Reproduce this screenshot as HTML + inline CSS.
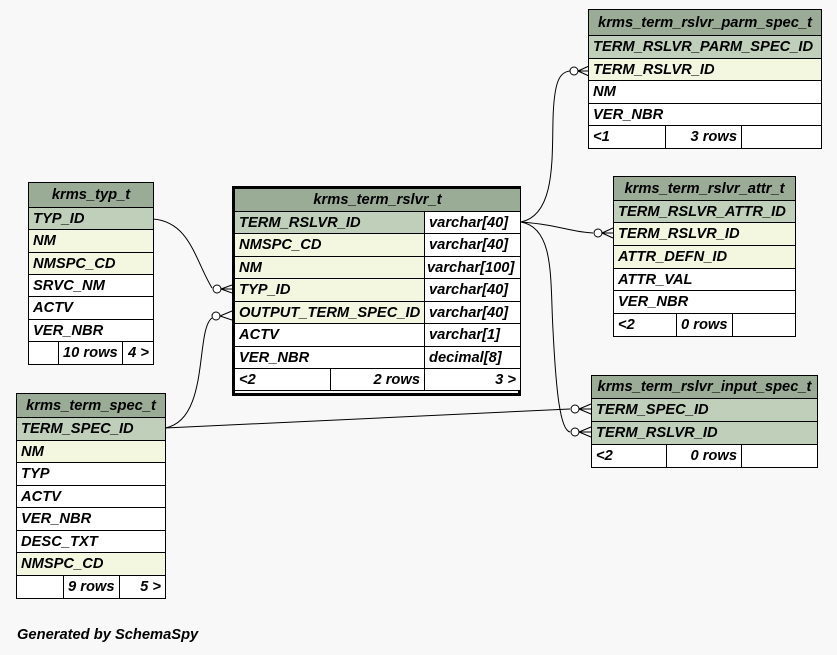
<!DOCTYPE html>
<html><head><style>
body{margin:0;width:837px;height:655px;background:#f8f8f8;position:relative;overflow:hidden;font-family:"Liberation Sans",sans-serif;font-weight:bold;font-style:italic;font-size:14.7px;color:#000}
table{position:absolute;border-collapse:collapse;background:#fff}
td{border:1px solid #000;padding:0 4px;white-space:nowrap;overflow:hidden;line-height:16px}
.h{background:#9aab96;text-align:center}
.pk{background:#bfcfba}
.fk{background:#f4f7df}
.r{text-align:right}
</style></head><body>
<svg width="837" height="655" style="position:absolute;left:0;top:0" fill="none" stroke="#000" stroke-width="1">
<path d="M153,219 C190,222 195,260 212,288"/><circle cx="217" cy="289" r="4" fill="#fff"/><path d="M221,289 L232,285 M221,289 L232,293 M221,289 L232,289"/>
<path d="M165,428 C210,420 195,330 212,318"/><circle cx="216" cy="316" r="4" fill="#fff"/><path d="M220,316 L232,311 M220,316 L232,320"/>
<path d="M521,222 C555,215 552,160 553,120 C554,80 560,72 570,71"/><circle cx="574" cy="71" r="4" fill="#fff"/><path d="M578,71 L589,66 M578,71 L589,76 M578,71 L589,71"/>
<path d="M521,222 C560,225 570,232 593,233"/><circle cx="598" cy="233" r="4" fill="#fff"/><path d="M602,233 L613,228 M602,233 L613,238 M602,233 L613,233"/>
<path d="M521,222 C555,228 550,280 553,330 C556,390 560,430 570,432"/><circle cx="575" cy="432" r="4" fill="#fff"/><path d="M579,432 L591,427 M579,432 L591,437 M579,432 L591,432"/>
<path d="M165,428 L570,409"/><circle cx="575" cy="409" r="4" fill="#fff"/><path d="M579,409 L591,404 M579,409 L591,414 M579,409 L591,409"/>
</svg>

<div style="position:absolute;left:232px;top:186px;width:289px;height:210px;border:3px solid #000;box-sizing:border-box"></div>
<table style="left:234px;top:188px;width:286px;table-layout:fixed">
<colgroup><col style="width:96px"><col style="width:94px"><col style="width:96px"></colgroup>
<tr style="height:23px"><td class="h" colspan="3">krms_term_rslvr_t</td></tr>
<tr style="height:22px"><td class="pk" colspan="2">TERM_RSLVR_ID</td><td>varchar[40]</td></tr>
<tr style="height:23px"><td class="fk" colspan="2">NMSPC_CD</td><td>varchar[40]</td></tr>
<tr style="height:22px"><td class="fk" colspan="2">NM</td><td style="padding:0 2px">varchar[100]</td></tr>
<tr style="height:23px"><td class="fk" colspan="2">TYP_ID</td><td>varchar[40]</td></tr>
<tr style="height:22px"><td class="fk" colspan="2" style="padding:0 2px 0 4px">OUTPUT_TERM_SPEC_ID</td><td>varchar[40]</td></tr>
<tr style="height:23px"><td colspan="2">ACTV</td><td>varchar[1]</td></tr>
<tr style="height:22px"><td colspan="2">VER_NBR</td><td>decimal[8]</td></tr>
<tr style="height:22px"><td>&lt;2</td><td class="r">2 rows</td><td class="r">3 &gt;</td></tr>
</table>

<table style="left:28px;top:182px;width:126px">
<tr style="height:25px"><td class="h" colspan="3">krms_typ_t</td></tr>
<tr style="height:22px"><td class="pk" colspan="3">TYP_ID</td></tr>
<tr style="height:23px"><td class="fk" colspan="3">NM</td></tr>
<tr style="height:22px"><td class="fk" colspan="3">NMSPC_CD</td></tr>
<tr style="height:22px"><td colspan="3">SRVC_NM</td></tr>
<tr style="height:23px"><td colspan="3">ACTV</td></tr>
<tr style="height:22px"><td colspan="3">VER_NBR</td></tr>
<tr style="height:23px"><td style="width:21px"></td><td class="r" style="width:51px">10 rows</td><td class="r">4 &gt;</td></tr>
</table>

<table style="left:16px;top:393px;width:150px">
<tr style="height:24px"><td class="h" colspan="3">krms_term_spec_t</td></tr>
<tr style="height:23px"><td class="pk" colspan="3">TERM_SPEC_ID</td></tr>
<tr style="height:22px"><td class="fk" colspan="3">NM</td></tr>
<tr style="height:23px"><td colspan="3">TYP</td></tr>
<tr style="height:22px"><td colspan="3">ACTV</td></tr>
<tr style="height:23px"><td colspan="3">VER_NBR</td></tr>
<tr style="height:22px"><td colspan="3">DESC_TXT</td></tr>
<tr style="height:23px"><td class="fk" colspan="3">NMSPC_CD</td></tr>
<tr style="height:23px"><td style="width:38px"></td><td class="r" style="width:43px">9 rows</td><td class="r">5 &gt;</td></tr>
</table>

<table style="left:588px;top:9px;width:234px">
<tr style="height:26px"><td class="h" colspan="3">krms_term_rslvr_parm_spec_t</td></tr>
<tr style="height:23px"><td class="pk" colspan="3">TERM_RSLVR_PARM_SPEC_ID</td></tr>
<tr style="height:22px"><td class="fk" colspan="3">TERM_RSLVR_ID</td></tr>
<tr style="height:23px"><td colspan="3">NM</td></tr>
<tr style="height:22px"><td colspan="3">VER_NBR</td></tr>
<tr style="height:23px"><td style="width:68px">&lt;1</td><td class="r" style="width:67px">3 rows</td><td></td></tr>
</table>

<table style="left:613px;top:176px;width:183px">
<tr style="height:24px"><td class="h" colspan="3">krms_term_rslvr_attr_t</td></tr>
<tr style="height:22px"><td class="pk" colspan="3">TERM_RSLVR_ATTR_ID</td></tr>
<tr style="height:23px"><td class="fk" colspan="3">TERM_RSLVR_ID</td></tr>
<tr style="height:23px"><td class="fk" colspan="3">ATTR_DEFN_ID</td></tr>
<tr style="height:22px"><td colspan="3">ATTR_VAL</td></tr>
<tr style="height:23px"><td colspan="3">VER_NBR</td></tr>
<tr style="height:23px"><td style="width:54px">&lt;2</td><td class="r" style="width:46px">0 rows</td><td></td></tr>
</table>

<table style="left:591px;top:375px;width:227px">
<tr style="height:23px"><td class="h" colspan="3">krms_term_rslvr_input_spec_t</td></tr>
<tr style="height:23px"><td class="pk" colspan="3">TERM_SPEC_ID</td></tr>
<tr style="height:23px"><td class="pk" colspan="3">TERM_RSLVR_ID</td></tr>
<tr style="height:23px"><td style="width:66px">&lt;2</td><td class="r" style="width:66px">0 rows</td><td></td></tr>
</table>

<div style="position:absolute;left:17px;top:627px">Generated by SchemaSpy</div>
</body></html>
